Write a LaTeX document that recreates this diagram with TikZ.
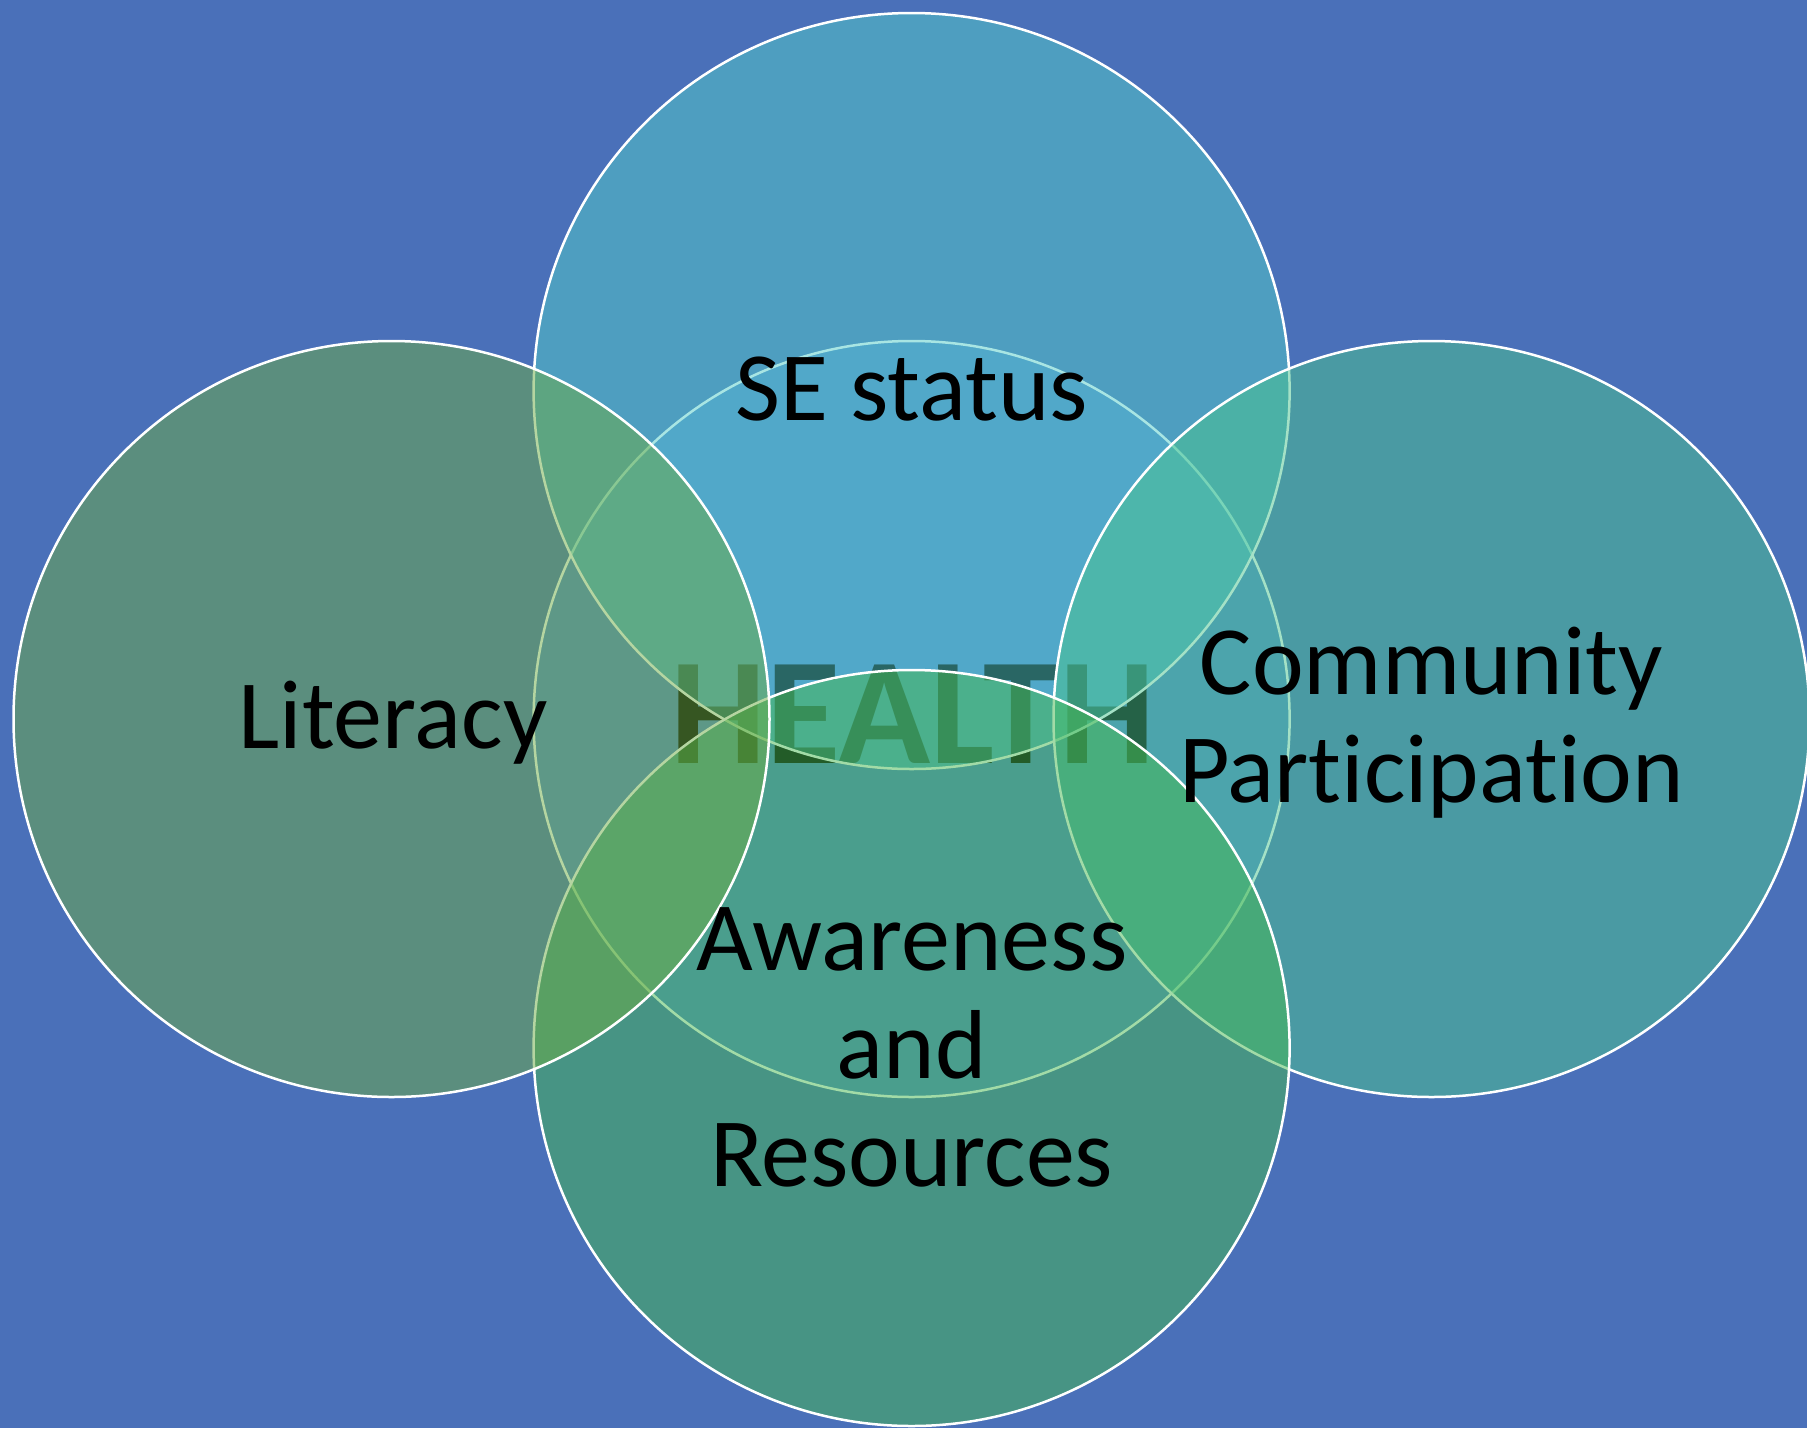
\documentclass[tikz,border=0pt]{standalone}
\usepackage{fontspec}
\setmainfont{Carlito}[Ligatures={NoCommon,NoRare}]
\definecolor{bgblue}{RGB}{74,112,185}
\definecolor{centerfill}{RGB}{80,132,203}
\definecolor{topfill}{RGB}{82,204,200}
\definecolor{rightfill}{RGB}{74,196,142}
\definecolor{bottomfill}{RGB}{70,184,80}
\definecolor{leftfill}{RGB}{108,172,68}
\tikzset{
  venn/.style={draw=white, line width=2.5pt, fill opacity=0.5},
  lbl/.style={text=black, inner sep=0pt, anchor=base, align=center,
              font=\fontsize{98}{108}\selectfont},
  bigword/.style={text=black, inner sep=0pt, anchor=base,
              font=\fontsize{152}{160}\selectfont\bfseries}
}
\begin{document}
\begin{tikzpicture}[x=1pt,y=-1pt]
\fill[bgblue] (0,0) rectangle (1807,1428);
\useasboundingbox (0,0) rectangle (1807,1428);
% central circle with HEALTH
\fill[centerfill] (911.6,719) circle[radius=378pt];
\draw[white, line width=2.5pt] (911.6,719) circle[radius=378pt];
\node[bigword] (health) at (912.5,763) {HEALTH};
% surrounding circles (top, right, bottom, left order)
\path[venn, fill=topfill] (911.6,391) circle[radius=378pt];
\path[venn, fill=rightfill] (1431.5,719) circle[radius=378pt];
\path[venn, fill=bottomfill] (911.6,1048) circle[radius=378pt];
\path[venn, fill=leftfill] (391.5,719) circle[radius=378pt];
% labels
\node[lbl] (se) at (911.6,420) {SE status};
\node[lbl] (lit) at (393,748) {Literacy};
\node[lbl] (comm) at (1431.5,802) {Community\\Participation};
\node[lbl] (aware) at (911.6,1186) {Awareness\\and\\Resources};
\end{tikzpicture}
\end{document}
